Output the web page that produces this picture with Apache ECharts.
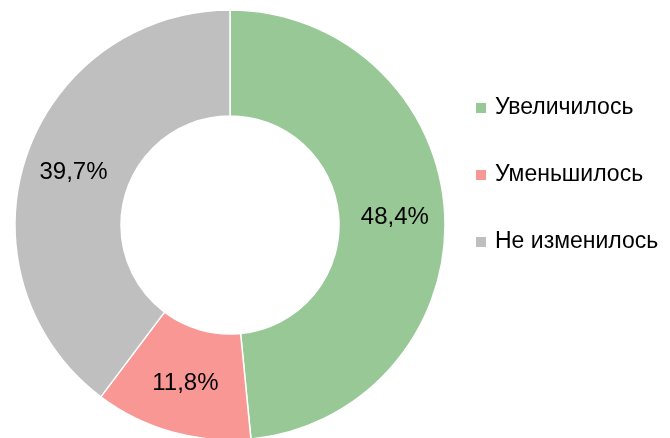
<!DOCTYPE html>
<html><head><meta charset="utf-8">
<script src="https://cdn.jsdelivr.net/npm/echarts@6/dist/echarts.min.js"></script>
<style>html,body{margin:0;padding:0;background:#fff}#c{width:670px;height:438px}</style>
</head><body><div id="c"></div>
<script>
const categories = ['Увеличилось', 'Уменьшилось', 'Не изменилось'];
const values = [48.4, 11.8, 39.7];
const colors = ['#97C895', '#F99795', '#BFBFBF'];

const chart = echarts.init(document.getElementById('c'), null, {renderer: 'canvas'});
const FONT = '"Liberation Sans Narrow", "Liberation Sans", Arial, sans-serif';
chart.setOption({
  animation: false,
  legend: {
    orient: 'vertical',
    left: 469,
    top: 91,
    itemWidth: 12,
    itemHeight: 12,
    itemGap: 43,
    icon: 'rect',
    data: categories,
    textStyle: { fontFamily: FONT, fontSize: 23, color: '#000', lineHeight: 24, padding: [0, 0, 0, 3] }
  },
  series: [{
    type: 'pie',
    center: [230, 225],
    radius: [109, 215],
    startAngle: 90,
    clockwise: true,
    avoidLabelOverlap: false,
    itemStyle: { borderColor: '#fff', borderWidth: 1.5 },
    label: {
      show: true,
      position: 'inside',
      fontFamily: FONT,
      fontSize: 24,
      color: '#000',
      formatter: p => p.value.toFixed(1).replace('.', ',') + '%'
    },
    labelLine: { show: false },
    emphasis: { disabled: true },
    data: categories.map((n, i) => ({ name: n, value: values[i], itemStyle: { color: colors[i] } }))
  }]
});
</script></body></html>
